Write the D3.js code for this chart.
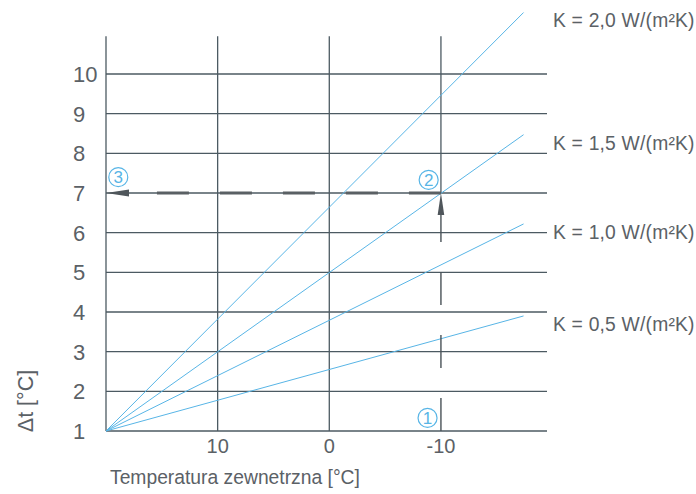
<!DOCTYPE html>
<html>
<head>
<meta charset="utf-8">
<script src="https://cdn.jsdelivr.net/npm/d3@7"></script>
<style>
  html, body { margin: 0; padding: 0; background: #fff; }
  svg { display: block; }
  text { font-family: "Liberation Sans", Arial, sans-serif; fill: #5b6166; }
</style>
</head>
<body>
<svg id="chart" width="696" height="494"></svg>
<script>
// ---- data ----
const xTicks = [10, 0, -10];
const yTicks = [1, 2, 3, 4, 5, 6, 7, 8, 9, 10];
const kLabels = ["K = 2,0 W/(m²K)", "K = 1,5 W/(m²K)", "K = 1,0 W/(m²K)", "K = 0,5 W/(m²K)"];
const lineStartTemp = 20;
const lineStartDt = 1;
const lineEndTemp = -17.4;
const lineEndDt = [11.55, 8.47, 6.22, 3.9];
const readTemp = -10;       // example outside temperature
const readDt = 7;           // resulting Δt
const markers = [
  { n: "1", t: -8.8, v: 1.33 },
  { n: "2", t: -8.9, v: 7.33 },
  { n: "3", t: 18.9, v: 7.4 }
];
const xTitle = "Temperatura zewnetrzna [°C]";
const yTitle = "Δt [°C]";

// ---- scales ----
const x = d3.scaleLinear().domain([20, -19.5]).range([106, 547]);
const y = d3.scaleLinear().domain([1, 10]).range([431, 74]);
const yTop = 10.95;

const svg = d3.select("#chart");
const gridColor = "#4c5a62";
const blue = "#58b5e6";
const darkGray = "#5a6064";

// horizontal grid
svg.append("g").selectAll("line").data(yTicks).join("line")
  .attr("x1", x(20)).attr("x2", x(-19.5))
  .attr("y1", d => y(d)).attr("y2", d => y(d))
  .attr("stroke", gridColor).attr("stroke-width", 1.3);

// vertical grid
const vLines = [20, 10, 0];
svg.append("g").selectAll("line").data(vLines).join("line")
  .attr("x1", d => x(d)).attr("x2", d => x(d))
  .attr("y1", y(1)).attr("y2", y(yTop))
  .attr("stroke", gridColor).attr("stroke-width", 1.3);
// -10 line solid above the reading
svg.append("line")
  .attr("x1", x(readTemp)).attr("x2", x(readTemp))
  .attr("y1", y(readDt)).attr("y2", y(yTop))
  .attr("stroke", gridColor).attr("stroke-width", 1.3);

// K lines
svg.append("g").selectAll("line").data(lineEndDt).join("line")
  .attr("x1", x(lineStartTemp)).attr("y1", y(lineStartDt))
  .attr("x2", x(lineEndTemp)).attr("y2", d => y(d))
  .attr("stroke", blue).attr("stroke-width", 1);

// vertical dashed reading line from bottom up to arrow
const arrowLen = 22, arrowHalf = 3.3;
svg.append("line")
  .attr("x1", x(readTemp)).attr("x2", x(readTemp))
  .attr("y1", y(1)).attr("y2", y(readDt) + arrowLen)
  .attr("stroke", "#4a5258").attr("stroke-width", 1.4)
  .attr("stroke-dasharray", "33,30");
// up arrow
{
  const ax = x(readTemp), ay = y(readDt);
  svg.append("path")
    .attr("d", `M${ax},${ay} L${ax - arrowHalf},${ay + arrowLen} L${ax + arrowHalf},${ay + arrowLen} Z`)
    .attr("fill", "#4f565b");
}
// horizontal dashed reading line (thick)
svg.append("line")
  .attr("x1", x(readTemp)).attr("x2", x(20) + 23)
  .attr("y1", y(readDt)).attr("y2", y(readDt))
  .attr("stroke", darkGray).attr("stroke-width", 3)
  .attr("stroke-dasharray", "32,31");
// left arrow
{
  const ax = x(20), ay = y(readDt);
  svg.append("path")
    .attr("d", `M${ax},${ay} L${ax + 23},${ay - 3.4} L${ax + 23},${ay + 3.4} Z`)
    .attr("fill", "#4f565b");
}

// y tick labels
svg.append("g").selectAll("text").data(yTicks).join("text")
  .attr("x", 73).attr("y", d => y(d))
  .attr("dy", "0.36em")
  .attr("font-size", 22)
  .text(d => d);

// x tick labels
svg.append("g").selectAll("text").data(xTicks).join("text")
  .attr("x", d => x(d)).attr("y", 453)
  .attr("text-anchor", "middle")
  .attr("font-size", 20)
  .text(d => d);

// axis titles
svg.append("text").attr("x", 110).attr("y", 484)
  .attr("font-size", 19.3).text(xTitle);
svg.append("text")
  .attr("transform", `translate(33,401) rotate(-90)`)
  .attr("text-anchor", "middle")
  .attr("font-size", 21.5)
  .text(yTitle);

// K labels
svg.append("g").selectAll("text").data(kLabels).join("text")
  .attr("x", 553).attr("y", (d, i) => y(lineEndDt[i]) + 8)
  .attr("dy", "0.36em")
  .attr("font-size", 19.3)
  .attr("letter-spacing", 0.2)
  .text(d => d);

// circled markers
const mg = svg.append("g").selectAll("g").data(markers).join("g")
  .attr("transform", d => `translate(${x(d.t)},${y(d.v)})`);
mg.append("circle").attr("r", 9.5).attr("fill", "none")
  .attr("stroke", blue).attr("stroke-width", 1.2);
mg.append("text").attr("text-anchor", "middle").attr("dy", "0.36em")
  .attr("font-size", 17).style("fill", blue).text(d => d.n);
</script>
</body>
</html>
